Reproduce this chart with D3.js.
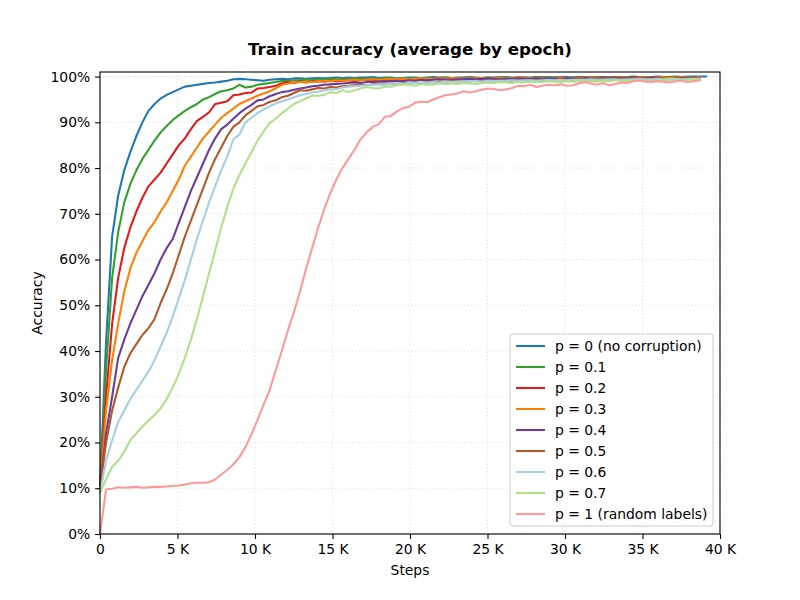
<!DOCTYPE html>
<html>
<head>
<meta charset="utf-8">
<script src="https://cdn.jsdelivr.net/npm/d3@7"></script>
<style>
  body { margin: 0; background: #fff; }
  text { font-family: "DejaVu Sans", sans-serif; }
</style>
</head>
<body>
<svg id="plotarea"></svg>
<script>
// steps per epoch (50000 images / batch 128)
var stepsPerEpoch = 391;

var labels = ["p = 0 (no corruption)", "p = 0.1", "p = 0.2", "p = 0.3", "p = 0.4",
    "p = 0.5", "p = 0.6", "p = 0.7", "p = 1 (random labels)"];
var colors = ["#1f78b4", "#33a02c", "#e31a1c", "#ff7f00", "#6a3d9a",
    "#b15928", "#a6cee3", "#b2df8a", "#fb9a99"];

var xTicks = [0, 5000, 10000, 15000, 20000, 25000, 30000, 35000, 40000];
var yTicks = [0, 10, 20, 30, 40, 50, 60, 70, 80, 90, 100];

// train accuracy in %, one value per epoch (epoch 0 = start)
var accP0 = [10, 42, 65, 74, 79.5, 83.5, 87, 90, 92.5, 94,
    95.2, 96, 96.6, 97.2, 97.8, 98, 98.2, 98.4, 98.6, 98.7,
    98.9, 99.1, 99.4, 99.5, 99.4, 99.3, 99.2, 99.1, 99.3, 99.4,
    99.5, 99.4, 99.6, 99.6, 99.5, 99.6, 99.7, 99.6, 99.7, 99.8,
    99.7, 99.8, 99.7, 99.8, 99.8, 99.9, 99.7, 99.8, 99.8, 99.6,
    99.7, 99.8, 99.8, 99.7, 99.8, 99.9, 99.8, 99.8, 99.7, 99.8,
    99.8, 99.9, 99.8, 99.7, 99.8, 99.8, 99.9, 99.9, 99.8, 99.7,
    99.8, 99.8, 99.9, 99.9, 99.8, 99.8, 99.9, 99.9, 99.8, 99.9,
    99.9, 99.8, 99.9, 99.9, 99.9, 99.8, 99.9, 99.9, 100, 99.9,
    99.9, 99.9, 100, 99.9, 99.9, 100, 99.9, 100, 100, 100, 100];
var accP01 = [10, 36, 56, 66, 72.5, 76.5, 79.5, 82, 84, 86,
    87.8, 89.2, 90.5, 91.5, 92.5, 93.3, 94, 95, 95.5, 96.2,
    96.8, 97, 97.4, 98.2, 97.6, 97.8, 98.2, 98.4, 98.6, 98.8,
    99, 99.1, 99.2, 99.2, 99.3, 99.2, 99.4, 99.3, 99.5, 99.4,
    99.5, 99.4, 99.6, 99.5, 99.5, 99.6, 99.5, 99.6, 99.7, 99.5,
    99.6, 99.7, 99.6, 99.7, 99.7, 99.6, 99.7, 99.8, 99.7, 99.6,
    99.7, 99.8, 99.7, 99.7, 99.8, 99.7, 99.8, 99.8, 99.7, 99.8,
    99.8, 99.7, 99.8, 99.8, 99.9, 99.8, 99.8, 99.7, 99.8, 99.9,
    99.8, 99.8, 99.9, 99.8, 99.9, 99.9, 99.8, 99.9, 99.8, 99.9,
    99.9, 99.9, 99.8, 99.9, 99.9, 99.9, 99.9, 99.9, 99.9, 99.9];
var accP02 = [10, 30, 46, 56, 62.5, 67, 70.5, 73.5, 76, 77.5,
    79, 81, 83, 85, 86.5, 88.5, 90.3, 91.2, 92.2, 94,
    94.3, 94.6, 95.9, 96.1, 96.4, 96.5, 97.4, 97.5, 97.7, 98,
    98.5, 98.8, 98.6, 98.9, 98.7, 98.9, 99, 98.9, 99.1, 99,
    99.1, 99.2, 99, 99.2, 99.3, 99.1, 99.3, 99.2, 99.4, 99.3,
    99.4, 99.3, 99.5, 99.4, 99.3, 99.5, 99.6, 99.5, 99.6, 99.6,
    99.5, 99.6, 99.5, 99.7, 99.6, 99.7, 99.7, 99.6, 99.7, 99.8,
    99.7, 99.6, 99.7, 99.7, 99.6, 99.7, 99.8, 99.7, 99.7, 99.8,
    99.7, 99.8, 99.7, 99.8, 99.7, 99.8, 99.8, 99.7, 99.8, 99.8,
    99.7, 99.8, 99.8, 99.7, 99.8, 99.8, 99.8, 99.7, 99.8, 99.8];
var accP03 = [10, 27, 38, 46, 53, 58, 61.5, 64, 66.5, 68.2,
    70.5, 72.5, 75, 77.5, 80.5, 82.5, 84.5, 86.5, 88, 89.5,
    91, 92, 93, 94, 94.6, 95.2, 95.8, 96.3, 96.8, 97.4,
    98.2, 98.5, 98.7, 98.8, 98.9, 98.8, 99, 99.1, 99, 99.2,
    99.1, 99.2, 99.3, 99.2, 99.3, 99.4, 99.3, 99.4, 99.5, 99.4,
    99.5, 99.4, 99.5, 99.6, 99.5, 99.5, 99.6, 99.5, 99.6, 99.6,
    99.5, 99.6, 99.6, 99.7, 99.6, 99.6, 99.7, 99.6, 99.7, 99.7,
    99.6, 99.7, 99.7, 99.6, 99.7, 99.7, 99.8, 99.7, 99.7, 99.7,
    99.7, 99.8, 99.7, 99.7, 99.8, 99.7, 99.8, 99.8, 99.7, 99.8,
    99.8, 99.7, 99.8, 99.8, 99.7, 99.8, 99.8, 99.8, 99.7, 99.8];
var accP04 = [10, 22, 30, 38.5, 42.5, 46, 49, 52, 54.5, 57,
    60, 62.5, 64.5, 68, 71.5, 75, 78, 81, 84, 86.5,
    88.5, 89.5, 90.8, 92, 93, 93.8, 94.8, 95, 95.7, 96.2,
    96.6, 96.8, 97.1, 97.4, 97.6, 97.9, 98, 98.2, 98.3, 98.4,
    98.5, 98.6, 98.7, 98.6, 98.8, 98.8, 98.9, 98.9, 99, 99.1,
    99, 99.2, 99.1, 99.3, 99.2, 99.3, 99.4, 99.3, 99.3, 99.4,
    99.4, 99.5, 99.4, 99.5, 99.6, 99.5, 99.4, 99.5, 99.5, 99.6,
    99.5, 99.5, 99.6, 99.5, 99.6, 99.6, 99.5, 99.6, 99.6, 99.5,
    99.6, 99.6, 99.5, 99.6, 99.7, 99.6, 99.6, 99.7, 99.6, 99.6,
    99.6, 99.7, 99.6, 99.5, 99.4, 99.6, 99.6, 99.7, 99.6, 99.6];
var accP05 = [10, 20, 27, 32, 36.5, 39.5, 41.5, 43.5, 45, 47,
    50.5, 53.5, 57, 61, 65, 68.5, 72, 75.5, 79, 82,
    84.5, 87, 89, 90, 91.5, 92.5, 93.5, 93.8, 94.5, 94.8,
    95.5, 95.8, 96.4, 97, 96.9, 97.2, 97.5, 97.4, 97.7, 97.6,
    97.9, 98, 98.1, 98.2, 98.1, 98.3, 98.4, 98.3, 98.5, 98.4,
    98.6, 98.5, 98.7, 98.6, 98.8, 98.7, 98.9, 98.8, 98.9, 99,
    98.9, 99, 99.1, 99, 99.1, 99.2, 99.1, 99.2, 99.1, 99.2,
    99.2, 99.3, 99.2, 99.3, 99.2, 99.3, 99.4, 99.3, 99.3, 99.4,
    99.3, 99.4, 99.3, 99.4, 99.4, 99.3, 99.4, 99.4, 99.5, 99.4,
    99.4, 99.5, 99.4, 99.5, 99.4, 99.5, 99.5, 99.4, 99.5, 99.5];
var accP06 = [9, 16, 20.5, 24.5, 27, 29.5, 31.5, 33.5, 35.5, 38,
    41, 44, 47.5, 51.5, 55.5, 60, 64.5, 68.5, 72.5, 76,
    79.5, 82.5, 86.3, 87.3, 90, 91, 92, 92.8, 93.5, 94.1,
    94.6, 95, 95.5, 95.9, 96.2, 96.5, 96.7, 97, 97.2, 97.3,
    97.6, 97.8, 97.9, 98, 98.1, 98.2, 98.3, 98.3, 98.4, 98.5,
    98.5, 98.6, 98.6, 98.7, 98.7, 98.8, 98.7, 98.9, 98.8, 98.9,
    98.9, 99, 99, 98.9, 99.1, 99, 99.1, 99.1, 99.2, 99.1,
    99.2, 99.2, 99.1, 99.2, 99.3, 99.2, 99.3, 99.2, 99.3, 99.3,
    99.3, 99.4, 99.3, 99.3, 99.4, 99.4, 99.3, 99.4, 99.4, 99.5,
    99.4, 99.4, 99.5, 99.4, 99.5, 99.5, 99.4, 99.5, 99.5, 99.5];
var accP07 = [9, 12, 14.7, 16, 18, 20.5, 22, 23.5, 24.8, 26,
    27.5, 29.5, 32, 35, 38.5, 42.5, 47, 52, 57, 62,
    67, 71.5, 75.5, 78.5, 81, 83.5, 86, 88, 89.8, 90.8,
    92, 93, 94, 94.6, 95.2, 95.8, 95.8, 96, 96.6, 96.4,
    97, 96.6, 97, 97.4, 97.7, 97.5, 97.4, 97.8, 97.8, 98.1,
    98.3, 98.2, 98, 98.4, 98.2, 98.3, 98.5, 98.4, 98.5, 98.4,
    98.6, 98.5, 98.4, 98.6, 98.7, 98.6, 98.8, 98.7, 98.6, 98.8,
    98.7, 98.9, 98.8, 98.8, 99, 98.9, 98.8, 99, 98.9, 99,
    99.1, 99, 98.9, 99.1, 99, 99.2, 99.1, 99, 99.2, 99.1,
    99.2, 99.1, 99.2, 99.3, 99.2, 99.3, 99.2, 99.3, 99.4, 99.3];
var accP1 = [0, 9.8, 9.9, 10.2, 10.1, 10.2, 10.3, 10.1, 10.2, 10.3,
    10.3, 10.4, 10.5, 10.6, 10.8, 11.1, 11.2, 11.2, 11.3, 11.9,
    13, 14, 15.2, 16.8, 19, 21.8, 25, 28.3, 31.5, 35.8,
    40, 44.5, 48.5, 53, 58, 62.5, 67, 71, 74.5, 77.5,
    80, 82, 84, 86.3, 87.8, 89, 89.6, 91.2, 91.4, 92.4,
    93.1, 93.4, 94.3, 94.5, 94.4, 95, 95.5, 95.9, 96.1, 96.3,
    96.8, 96.5, 96.8, 97.1, 97.4, 97.3, 97, 97.2, 97.5, 98,
    97.9, 98.2, 97.7, 98, 98.2, 98.1, 98.3, 98, 98.1, 98.5,
    98.8, 98.5, 98.2, 98.6, 98.1, 98.4, 98.7, 98.6, 99, 99.2,
    98.9, 98.8, 99, 98.9, 98.7, 99, 99.1, 98.8, 99, 99.2];

var series = [accP0, accP01, accP02, accP03, accP04, accP05, accP06, accP07, accP1];

function drawchart() {
    var margin = {top: 72, right: 80, bottom: 66, left: 100};
    var width = 800 - margin.left - margin.right;
    var height = 600 - margin.top - margin.bottom;

    var svg = d3.select("#plotarea")
        .attr("width", 800)
        .attr("height", 600);

    var g = svg.append("g")
        .attr("transform", "translate(" + margin.left + "," + margin.top + ")");

    var x = d3.scaleLinear().domain([0, 40000]).range([0, width]);
    var y = d3.scaleLinear().domain([0, 101]).range([height, 0]);

    // dotted grid
    g.append("g").selectAll("line")
        .data(xTicks)
        .enter().append("line")
        .attr("x1", function (d) { return x(d); })
        .attr("x2", function (d) { return x(d); })
        .attr("y1", 0).attr("y2", height)
        .attr("stroke", "#dcdcdc").attr("stroke-width", 1)
        .attr("stroke-dasharray", "1,2.5");
    g.append("g").selectAll("line")
        .data(yTicks)
        .enter().append("line")
        .attr("x1", 0).attr("x2", width)
        .attr("y1", function (d) { return y(d); })
        .attr("y2", function (d) { return y(d); })
        .attr("stroke", "#dcdcdc").attr("stroke-width", 1)
        .attr("stroke-dasharray", "1,2.5");

    // lines
    var line = d3.line()
        .x(function (d, i) { return x(i * stepsPerEpoch); })
        .y(function (d) { return y(d); });

    g.append("g").selectAll("path")
        .data(series)
        .enter().append("path")
        .attr("d", line)
        .attr("fill", "none")
        .attr("stroke", function (d, i) { return colors[i]; })
        .attr("stroke-width", 2.08)
        .attr("stroke-linejoin", "round")
        .attr("stroke-linecap", "square");

    // axes
    var xAxis = d3.axisBottom(x)
        .tickValues(xTicks)
        .tickSize(4.9).tickPadding(4.9)
        .tickFormat(function (d) { return d === 0 ? "0" : (d / 1000) + " K"; });
    var yAxis = d3.axisLeft(y)
        .tickValues(yTicks)
        .tickSize(4.9).tickPadding(4.9)
        .tickFormat(function (d) { return d + "%"; });

    var gx = g.append("g")
        .attr("transform", "translate(0," + height + ")")
        .call(xAxis);
    var gy = g.append("g").call(yAxis);

    [gx, gy].forEach(function (ax) {
        ax.select(".domain").remove();
        ax.selectAll("line").attr("stroke", "#000").attr("stroke-width", 1.1);
        ax.selectAll("text")
            .attr("fill", "#000")
            .style("font-size", "13.9px")
            .style("font-family", "DejaVu Sans");
    });

    // frame
    g.append("rect")
        .attr("width", width).attr("height", height)
        .attr("fill", "none").attr("stroke", "#000").attr("stroke-width", 1.1);

    // title and labels
    svg.append("text")
        .attr("x", margin.left + width / 2).attr("y", 55)
        .attr("text-anchor", "middle")
        .style("font-size", "16.7px").style("font-weight", "bold")
        .text("Train accuracy (average by epoch)");
    svg.append("text")
        .attr("x", margin.left + width / 2).attr("y", 575)
        .attr("text-anchor", "middle")
        .style("font-size", "13.9px")
        .text("Steps");
    svg.append("text")
        .attr("transform", "translate(42," + (margin.top + height / 2) + ") rotate(-90)")
        .attr("text-anchor", "middle")
        .style("font-size", "13.9px")
        .text("Accuracy");

    // legend
    var legend = svg.append("g").attr("transform", "translate(510,334)");
    legend.append("rect")
        .attr("width", 203).attr("height", 192)
        .attr("rx", 3)
        .attr("fill", "#fff").attr("fill-opacity", 0.8)
        .attr("stroke", "#ccc").attr("stroke-width", 1);
    var item = legend.selectAll(".item")
        .data(labels)
        .enter().append("g")
        .attr("class", "item")
        .attr("transform", function (d, i) { return "translate(0," + (12 + i * 21) + ")"; });
    item.append("line")
        .attr("x1", 6).attr("x2", 35)
        .attr("stroke", function (d, i) { return colors[i]; })
        .attr("stroke-width", 2.08);
    item.append("text")
        .attr("x", 45).attr("dy", "0.35em")
        .style("font-size", "13.9px")
        .text(function (d) { return d; });
}

drawchart();
</script>
</body>
</html>
